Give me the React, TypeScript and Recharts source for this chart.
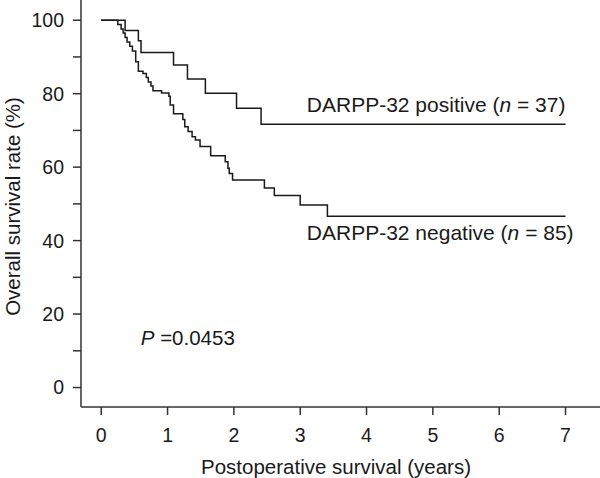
import React from 'react';
import { LineChart, Line, XAxis, YAxis, ReferenceDot } from 'recharts';

// Kaplan-Meier steps (years, % surviving)
const posTimes = [0, 0.36, 0.56, 0.6, 1.09, 1.3, 1.57, 2.04, 2.41, 7];
const posSurvival = [100, 97.2, 94.4, 91.2, 87.8, 84.0, 80.1, 76.0, 71.7, 71.7];

const negTimes = [
  0, 0.25, 0.3, 0.33, 0.36, 0.39, 0.43, 0.47, 0.52, 0.56, 0.63, 0.68, 0.71, 0.75, 0.78,
  0.91, 1.02, 1.04, 1.09, 1.23, 1.26, 1.31, 1.37, 1.42, 1.49, 1.65, 1.87, 1.91, 1.93,
  1.98, 2.46, 2.61, 3.0, 3.41, 7,
];
const negSurvival = [
  100, 98.8, 97.6, 96.5, 95.3, 94.1, 92.9, 91.6, 88.7, 86.1, 85.5, 84.4, 83.2, 82.1, 80.8,
  80.2, 79.3, 76.9, 74.5, 73.0, 71.0, 69.7, 68.3, 67.4, 65.6, 63.1, 61.5, 59.7, 58.3,
  56.5, 54.3, 52.3, 49.7, 46.6, 46.6,
];

const xTicks = [0, 1, 2, 3, 4, 5, 6, 7];
const yTicks = [0, 10, 20, 30, 40, 50, 60, 70, 80, 90, 100];

const posData = posTimes.map((t, i) => ({ t, v: posSurvival[i] }));
const negData = negTimes.map((t, i) => ({ t, v: negSurvival[i] }));

const FONT = '"Liberation Sans", Arial, Helvetica, sans-serif';
const AXIS = '#333';
const INK = '#1a1a1a';

const annotation = (prefix: string, n: string) => (props: any) => {
  const { viewBox } = props;
  return (
    <text x={viewBox.x} y={viewBox.y} fontFamily={FONT} fontSize={21} fill={INK}>
      {prefix}(<tspan fontStyle="italic">n</tspan> = {n})
    </text>
  );
};

const pLabel = (props: any) => {
  const { viewBox } = props;
  return (
    <text x={viewBox.x} y={viewBox.y} fontFamily={FONT} fontSize={20.5} fill={INK}>
      <tspan fontStyle="italic">P</tspan> =0.0453
    </text>
  );
};

const yTitle = (props: any) => {
  const { viewBox } = props;
  const x = viewBox.x + 20;
  const y = viewBox.y + viewBox.height / 2 + 3;
  return (
    <text
      x={x}
      y={y}
      transform={`rotate(-90, ${x}, ${y})`}
      textAnchor="middle"
      fontFamily={FONT}
      fontSize={20.5}
      fill={INK}
    >
      Overall survival rate (%)
    </text>
  );
};

const xTitle = (props: any) => {
  const { viewBox } = props;
  return (
    <text
      x={336}
      y={viewBox.y + 67}
      textAnchor="middle"
      fontFamily={FONT}
      fontSize={20.5}
      fill={INK}
    >
      Postoperative survival (years)
    </text>
  );
};

export default function App() {
  return (
    <div style={{ position: 'absolute', left: 0, top: 0, background: '#fff' }}>
      <LineChart width={600} height={478} margin={{ top: 0, right: 0, bottom: 0, left: 0 }}>
        <XAxis
          type="number"
          dataKey="t"
          domain={[-0.305, 7.52]}
          ticks={xTicks}
          interval={0}
          allowDataOverflow
          height={71}
          tickSize={8}
          tickMargin={13}
          stroke={AXIS}
          strokeWidth={1.5}
          tick={{ fill: INK, fontSize: 19.5, fontFamily: FONT }}
          label={xTitle}
        />
        <YAxis
          type="number"
          domain={[-5.3, 105.5]}
          ticks={yTicks}
          interval={0}
          allowDataOverflow
          width={81}
          tickSize={8}
          tickMargin={9}
          stroke={AXIS}
          strokeWidth={1.5}
          tick={{ fill: INK, fontSize: 19.5, fontFamily: FONT }}
          tickFormatter={(v: number) => (v % 20 === 0 ? String(v) : '')}
          label={yTitle}
        />
        <Line
          data={negData}
          dataKey="v"
          type="stepAfter"
          stroke={INK}
          strokeWidth={1.5}
          dot={false}
          isAnimationActive={false}
        />
        <Line
          data={posData}
          dataKey="v"
          type="stepAfter"
          stroke={INK}
          strokeWidth={1.5}
          dot={false}
          isAnimationActive={false}
        />
        <ReferenceDot x={3.1} y={74.9} r={0} fill="none" stroke="none" label={annotation('DARPP-32 positive ', '37')} />
        <ReferenceDot x={3.1} y={40.2} r={0} fill="none" stroke="none" label={annotation('DARPP-32 negative ', '85')} />
        <ReferenceDot x={0.596} y={11.6} r={0} fill="none" stroke="none" label={pLabel} />
      </LineChart>
    </div>
  );
}
